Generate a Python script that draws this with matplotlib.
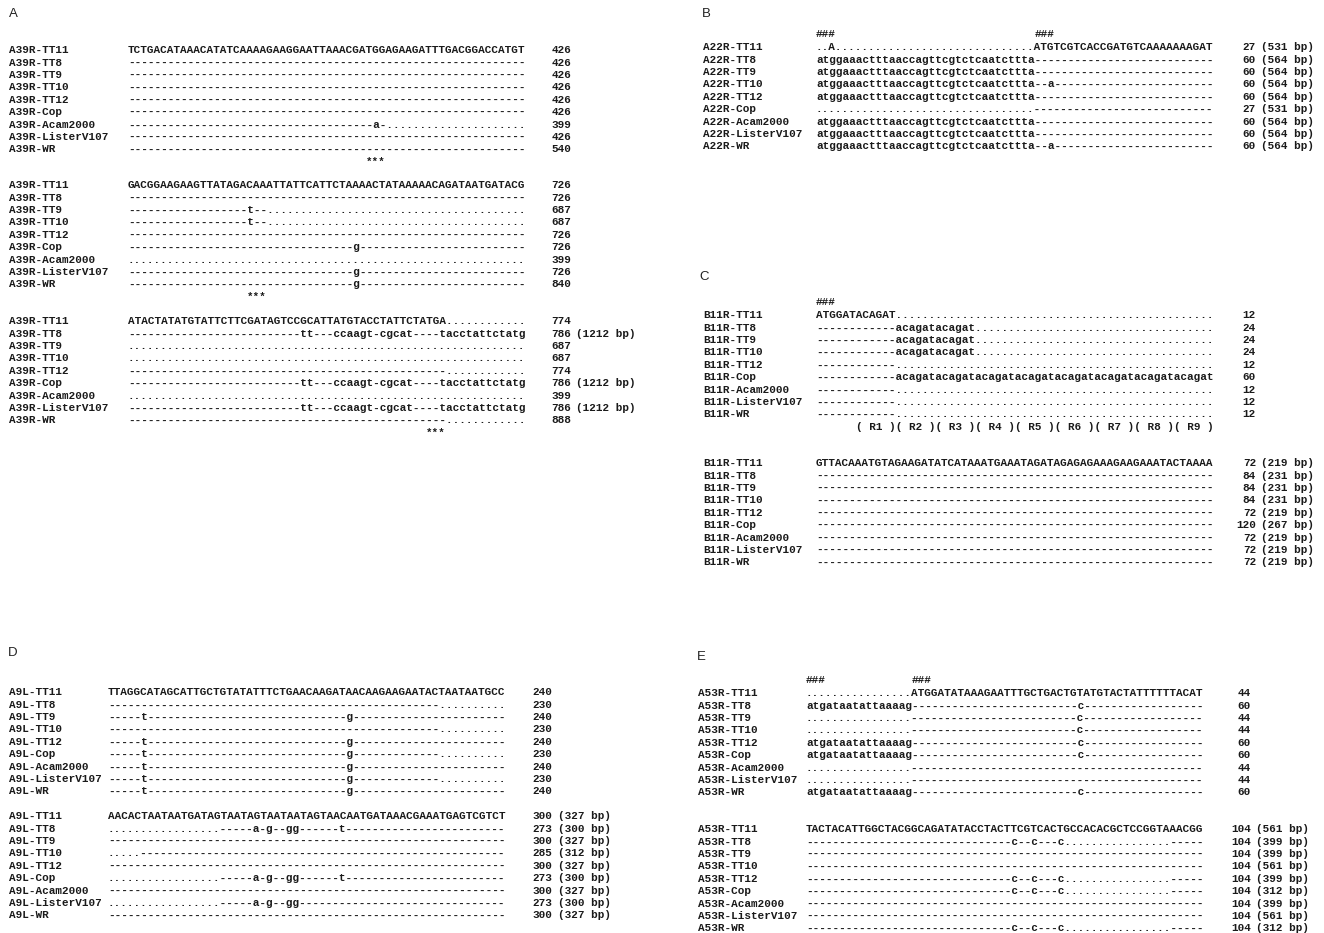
import matplotlib
matplotlib.use('Agg')
from matplotlib import pyplot as plt

# ---------------- panel A : A39R ----------------
A_NAMES = ['A39R-TT11', 'A39R-TT8', 'A39R-TT9', 'A39R-TT10', 'A39R-TT12',
           'A39R-Cop', 'A39R-Acam2000', 'A39R-ListerV107', 'A39R-WR']
A_SEQ1 = ['TCTGACATAAACATATCAAAAGAAGGAATTAAACGATGGAGAAGATTTGACGGACCATGT',
          '-' * 60, '-' * 60, '-' * 60, '-' * 60, '-' * 60,
          '-' * 37 + 'a-' + '.' * 21,
          '-' * 60, '-' * 60]
A_LEN1 = [426, 426, 426, 426, 426, 426, 399, 426, 540]
A_SEQ2 = ['GACGGAAGAAGTTATAGACAAATTATTCATTCTAAAACTATAAAAACAGATAATGATACG',
          '-' * 60,
          '-' * 18 + 't--' + '.' * 39,
          '-' * 18 + 't--' + '.' * 39,
          '-' * 60,
          '-' * 34 + 'g' + '-' * 25,
          '.' * 60,
          '-' * 34 + 'g' + '-' * 25,
          '-' * 34 + 'g' + '-' * 25]
A_LEN2 = [726, 726, 687, 687, 726, 726, 399, 726, 840]
A_SEQ3 = ['ATACTATATGTATTCTTCGATAGTCCGCATTATGTACCTATTCTATGA' + '.' * 12,
          '-' * 26 + 'tt---ccaagt-cgcat----tacctattctatg',
          '.' * 60, '.' * 60,
          '-' * 48 + '.' * 12,
          '-' * 26 + 'tt---ccaagt-cgcat----tacctattctatg',
          '.' * 60,
          '-' * 26 + 'tt---ccaagt-cgcat----tacctattctatg',
          '-' * 48 + '.' * 12]
A_LEN3 = [774, 786, 687, 687, 774, 786, 399, 786, 888]
A_BP3 = ['', '(1212 bp)', '', '', '', '(1212 bp)', '', '(1212 bp)', '']
A_STOPS = [36, 18, 45]

# ---------------- panel B : A22R ----------------
B_NAMES = ['A22R-TT11', 'A22R-TT8', 'A22R-TT9', 'A22R-TT10', 'A22R-TT12',
           'A22R-Cop', 'A22R-Acam2000', 'A22R-ListerV107', 'A22R-WR']
B_MARKS = [0, 33]
B_SEQ = ['..A' + '.' * 30 + 'ATGTCGTCACCGATGTCAAAAAAAGAT',
         'atggaaactttaaccagttcgtctcaatcttta' + '-' * 27,
         'atggaaactttaaccagttcgtctcaatcttta' + '-' * 27,
         'atggaaactttaaccagttcgtctcaatcttta--a' + '-' * 24,
         'atggaaactttaaccagttcgtctcaatcttta' + '-' * 27,
         '.' * 33 + '-' * 27,
         'atggaaactttaaccagttcgtctcaatcttta' + '-' * 27,
         'atggaaactttaaccagttcgtctcaatcttta' + '-' * 27,
         'atggaaactttaaccagttcgtctcaatcttta--a' + '-' * 24]
B_LEN = [27, 60, 60, 60, 60, 27, 60, 60, 60]
B_BP = ['(531 bp)', '(564 bp)', '(564 bp)', '(564 bp)', '(564 bp)',
        '(531 bp)', '(564 bp)', '(564 bp)', '(564 bp)']

# ---------------- panel C : B11R ----------------
C_NAMES = ['B11R-TT11', 'B11R-TT8', 'B11R-TT9', 'B11R-TT10', 'B11R-TT12',
           'B11R-Cop', 'B11R-Acam2000', 'B11R-ListerV107', 'B11R-WR']
C_MARKS = [0]
C_SEQ1 = ['ATGGATACAGAT' + '.' * 48,
          '-' * 12 + 'acagatacagat' + '.' * 36,
          '-' * 12 + 'acagatacagat' + '.' * 36,
          '-' * 12 + 'acagatacagat' + '.' * 36,
          '-' * 12 + '.' * 48,
          '-' * 12 + 'acagatacagatacagatacagatacagatacagatacagatacagat',
          '-' * 12 + '.' * 48,
          '-' * 12 + '.' * 48,
          '-' * 12 + '.' * 48]
C_LEN1 = [12, 24, 24, 24, 12, 60, 12, 12, 12]
C_REPEATS = ['R1', 'R2', 'R3', 'R4', 'R5', 'R6', 'R7', 'R8', 'R9']
C_SEQ2 = ['GTTACAAATGTAGAAGATATCATAAATGAAATAGATAGAGAGAAAGAAGAAATACTAAAA'] + ['-' * 60] * 8
C_LEN2 = [72, 84, 84, 84, 72, 120, 72, 72, 72]
C_BP2 = ['(219 bp)', '(231 bp)', '(231 bp)', '(231 bp)', '(219 bp)',
         '(267 bp)', '(219 bp)', '(219 bp)', '(219 bp)']

# ---------------- panel D : A9L ----------------
D_NAMES = ['A9L-TT11', 'A9L-TT8', 'A9L-TT9', 'A9L-TT10', 'A9L-TT12',
           'A9L-Cop', 'A9L-Acam2000', 'A9L-ListerV107', 'A9L-WR']
D_SEQ1 = ['TTAGGCATAGCATTGCTGTATATTTCTGAACAAGATAACAAGAAGAATACTAATAATGCC',
          '-' * 50 + '.' * 10,
          '-----t' + '-' * 30 + 'g' + '-' * 23,
          '-' * 50 + '.' * 10,
          '-----t' + '-' * 30 + 'g' + '-' * 23,
          '-----t' + '-' * 30 + 'g' + '-' * 13 + '.' * 10,
          '-----t' + '-' * 30 + 'g' + '-' * 23,
          '-----t' + '-' * 30 + 'g' + '-' * 13 + '.' * 10,
          '-----t' + '-' * 30 + 'g' + '-' * 23]
D_LEN1 = [240, 230, 240, 230, 240, 230, 240, 230, 240]
D_SEQ2 = ['AACACTAATAATGATAGTAATAGTAATAATAGTAACAATGATAAACGAAATGAGTCGTCT',
          '.' * 17 + '-----a-g--gg------t' + '-' * 24,
          '-' * 60,
          '.' * 5 + '-' * 55,
          '-' * 60,
          '.' * 17 + '-----a-g--gg------t' + '-' * 24,
          '-' * 60,
          '.' * 17 + '-----a-g--gg' + '-' * 31,
          '-' * 60]
D_LEN2 = [300, 273, 300, 285, 300, 273, 300, 273, 300]
D_BP2 = ['(327 bp)', '(300 bp)', '(327 bp)', '(312 bp)', '(327 bp)',
         '(300 bp)', '(327 bp)', '(300 bp)', '(327 bp)']

# ---------------- panel E : A53R ----------------
E_NAMES = ['A53R-TT11', 'A53R-TT8', 'A53R-TT9', 'A53R-TT10', 'A53R-TT12',
           'A53R-Cop', 'A53R-Acam2000', 'A53R-ListerV107', 'A53R-WR']
E_MARKS = [0, 16]
E_SEQ1 = ['.' * 16 + 'ATGGATATAAAGAATTTGCTGACTGTATGTACTATTTTTTACAT',
          'atgataatattaaaag' + '-' * 25 + 'c' + '-' * 18,
          '.' * 16 + '-' * 25 + 'c' + '-' * 18,
          '.' * 16 + '-' * 25 + 'c' + '-' * 18,
          'atgataatattaaaag' + '-' * 25 + 'c' + '-' * 18,
          'atgataatattaaaag' + '-' * 25 + 'c' + '-' * 18,
          '.' * 16 + '-' * 44,
          '.' * 16 + '-' * 44,
          'atgataatattaaaag' + '-' * 25 + 'c' + '-' * 18]
E_LEN1 = [44, 60, 44, 44, 60, 60, 44, 44, 60]
E_SEQ2 = ['TACTACATTGGCTACGGCAGATATACCTACTTCGTCACTGCCACACGCTCCGGTAAACGG',
          '-' * 31 + 'c--c---c' + '.' * 16 + '-' * 5,
          '-' * 60,
          '-' * 60,
          '-' * 31 + 'c--c---c' + '.' * 16 + '-' * 5,
          '-' * 31 + 'c--c---c' + '.' * 16 + '-' * 5,
          '-' * 60,
          '-' * 60,
          '-' * 31 + 'c--c---c' + '.' * 16 + '-' * 5]
E_LEN2 = [104, 104, 104, 104, 104, 104, 104, 104, 104]
E_BP2 = ['(561 bp)', '(399 bp)', '(399 bp)', '(561 bp)', '(399 bp)',
         '(312 bp)', '(399 bp)', '(561 bp)', '(312 bp)']

MONO = 'Liberation Mono'
FS = 7.94          # 11 px at 100 dpi -> 6.62 px per character
CW = 6.62
STEP = 12.4
DY = 1.2           # nudge rows down a bit
INK = '#1a1a1a'


def txt(ax, x, y, s, ha='left'):
    ax.text(x, y + DY, s, family=MONO, size=FS, weight='bold', color=INK,
            ha=ha, va='center')


def block(ax, y0, xn, xs, xr, xb, names, seqs, lens, bps=None):
    for i, name in enumerate(names):
        y = y0 + i * STEP
        txt(ax, xn, y, name)
        txt(ax, xs, y, seqs[i])
        txt(ax, xr, y, str(lens[i]), ha='right')
        if bps is not None and bps[i]:
            txt(ax, xb, y, bps[i])


def marks(ax, y, xs, cols, sym):
    for c in cols:
        txt(ax, xs + c * CW, y, sym)


def panel_label(ax, x, y, s):
    ax.text(x, y, s, family='Liberation Sans', size=9.5, color='#222222',
            ha='left', va='center')


fig = plt.figure(figsize=(13.24, 9.33), dpi=100)
ax = fig.add_axes([0, 0, 1, 1])
ax.set_xlim(0, 1324)
ax.set_ylim(933, 0)
ax.axis('off')

# A
panel_label(ax, 9, 14, 'A')
for k, (y0, seqs, lens) in enumerate([(49, A_SEQ1, A_LEN1), (184, A_SEQ2, A_LEN2),
                                      (320, A_SEQ3, A_LEN3)]):
    bps = A_BP3 if k == 2 else None
    block(ax, y0, 9, 128, 571, 576, A_NAMES, seqs, lens, bps)
    marks(ax, y0 + 9 * STEP, 128, [A_STOPS[k]], '***')

# B
panel_label(ax, 702, 14, 'B')
marks(ax, 33, 816, B_MARKS, '###')
block(ax, 46, 703, 816, 1256, 1261, B_NAMES, B_SEQ, B_LEN, B_BP)

# C
panel_label(ax, 699, 277, 'C')
marks(ax, 301, 816, C_MARKS, '###')
block(ax, 314, 703, 816, 1256, 1261, C_NAMES, C_SEQ1, C_LEN1)
rep = ''.join('( %s )' % r for r in C_REPEATS)
txt(ax, 816 + 6 * CW, 314 + 9 * STEP, rep)
block(ax, 462, 703, 816, 1256, 1261, C_NAMES, C_SEQ2, C_LEN2, C_BP2)

# D
panel_label(ax, 8, 653, 'D')
block(ax, 691, 9, 108, 552, 558, D_NAMES, D_SEQ1, D_LEN1)
block(ax, 815, 9, 108, 552, 558, D_NAMES, D_SEQ2, D_LEN2, D_BP2)

# E
panel_label(ax, 697, 657, 'E')
marks(ax, 679, 806, E_MARKS, '###')
block(ax, 692, 698, 806, 1251, 1256, E_NAMES, E_SEQ1, E_LEN1)
block(ax, 828, 698, 806, 1251, 1256, E_NAMES, E_SEQ2, E_LEN2, E_BP2)

plt.savefig('out.png', dpi=100)
plt.close(fig)
